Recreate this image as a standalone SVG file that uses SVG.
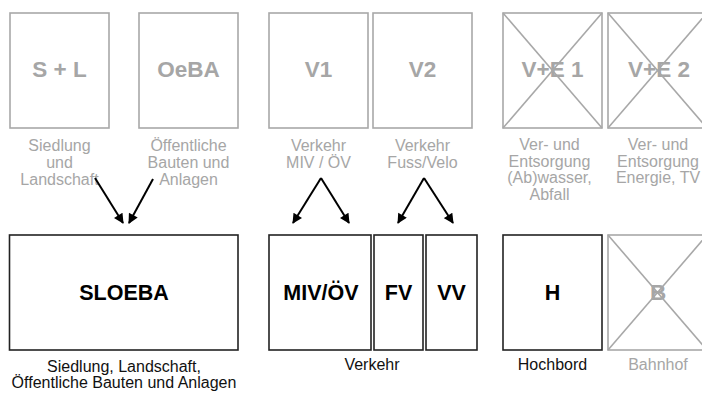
<svg xmlns="http://www.w3.org/2000/svg" width="702" height="394" viewBox="0 0 702 394">
<defs>
<style>
.gbox{fill:#fff;stroke:#a8a8a8;stroke-width:1.6}
.bbox{fill:#fff;stroke:#222;stroke-width:1.6}
.cross{stroke:#a8a8a8;stroke-width:1.6}
.gt{font-family:"Liberation Sans",Arial,sans-serif;font-size:22.5px;font-weight:bold;fill:#a6a6a6;text-anchor:middle}
.bt{font-family:"Liberation Sans",Arial,sans-serif;font-size:21.5px;font-weight:bold;fill:#000;text-anchor:middle}
.gs{font-family:"Liberation Sans",Arial,sans-serif;font-size:16px;fill:#a6a6a6;text-anchor:middle}
.bs{font-family:"Liberation Sans",Arial,sans-serif;font-size:16px;fill:#111;text-anchor:middle}
.arr{stroke:#000;stroke-width:2;fill:none;marker-end:url(#ah)}
</style>
<marker id="ah" viewBox="0 0 10 10" refX="9" refY="5" markerWidth="5.5" markerHeight="5" orient="auto" markerUnits="strokeWidth">
<path d="M0,0 L10,5 L0,10 z" fill="#000"/>
</marker>
</defs>
<rect width="702" height="394" fill="#fff"/>

<g id="SL">
<rect class="gbox" x="10" y="13" width="99" height="115"/>
<text class="gt" x="59.5" y="77">S + L</text>
<text class="gs" x="59.5" y="151">Siedlung</text>
<text class="gs" x="59.5" y="168">und</text>
<text class="gs" x="59.5" y="185">Landschaft</text>
</g>
<g id="OeBA">
<rect class="gbox" x="139" y="13" width="99" height="115"/>
<text class="gt" x="188.5" y="77">OeBA</text>
<text class="gs" x="188.5" y="151">Öffentliche</text>
<text class="gs" x="188.5" y="168">Bauten und</text>
<text class="gs" x="188.5" y="185">Anlagen</text>
</g>
<g id="V1">
<rect class="gbox" x="269" y="13" width="99" height="115"/>
<text class="gt" x="318.5" y="77">V1</text>
<text class="gs" x="318.5" y="151">Verkehr</text>
<text class="gs" x="318.5" y="168">MIV / ÖV</text>
</g>
<g id="V2">
<rect class="gbox" x="373" y="13" width="99" height="115"/>
<text class="gt" x="422.5" y="77">V2</text>
<text class="gs" x="422.5" y="151">Verkehr</text>
<text class="gs" x="422.5" y="168">Fuss/Velo</text>
</g>
<g id="VE1">
<rect class="gbox" x="503" y="13" width="99" height="115"/>
<text class="gt" x="552.5" y="77">V+E 1</text>
<line class="cross" x1="503" y1="13" x2="602" y2="128"/>
<line class="cross" x1="602" y1="13" x2="503" y2="128"/>
<text class="gs" x="549.5" y="150">Ver- und</text>
<text class="gs" x="549.5" y="166.5">Entsorgung</text>
<text class="gs" x="549.5" y="183">(Ab)wasser,</text>
<text class="gs" x="549.5" y="199.5">Abfall</text>
</g>
<g id="VE2">
<rect class="gbox" x="608" y="13" width="99" height="115"/>
<text class="gt" x="659" y="77">V+E 2</text>
<line class="cross" x1="608" y1="13" x2="707" y2="128"/>
<line class="cross" x1="707" y1="13" x2="608" y2="128"/>
<text class="gs" x="658" y="150">Ver- und</text>
<text class="gs" x="658" y="166.5">Entsorgung</text>
<text class="gs" x="658" y="183">Energie, TV</text>
</g>

<g id="SLOEBA">
<rect class="bbox" x="9.5" y="235" width="228.5" height="115"/>
<text class="bt" x="124" y="300">SLOEBA</text>
<text class="bs" x="124" y="372">Siedlung, Landschaft,</text>
<text class="bs" x="124" y="388">Öffentliche Bauten und Anlagen</text>
</g>
<g id="MIVOEV">
<rect class="bbox" x="269" y="235" width="102" height="115"/>
<text class="bt" x="321" y="300">MIV/ÖV</text>
</g>
<g id="FV">
<rect class="bbox" x="374" y="235" width="49" height="115"/>
<text class="bt" x="398.5" y="300">FV</text>
</g>
<g id="VV">
<rect class="bbox" x="426" y="235" width="51" height="115"/>
<text class="bt" x="451.5" y="300">VV</text>
</g>
<text id="Verkehr" class="bs" x="372" y="370">Verkehr</text>
<g id="H">
<rect class="bbox" x="503" y="235" width="99" height="115"/>
<text class="bt" x="552.5" y="300">H</text>
<text class="bs" x="552.5" y="370">Hochbord</text>
</g>
<g id="B">
<rect class="gbox" x="608" y="235" width="99" height="115"/>
<text class="gt" x="658" y="300">B</text>
<line class="cross" x1="608" y1="235" x2="707" y2="350"/>
<line class="cross" x1="707" y1="235" x2="608" y2="350"/>
<text class="gs" x="658" y="370">Bahnhof</text>
</g>

<g id="connectors">
<line class="arr" x1="95" y1="178" x2="123" y2="223"/>
<line class="arr" x1="153" y1="179" x2="129" y2="223"/>
<line class="arr" x1="321" y1="178" x2="293" y2="223"/>
<line class="arr" x1="321" y1="178" x2="349" y2="223"/>
<line class="arr" x1="424" y1="178" x2="398" y2="223"/>
<line class="arr" x1="424" y1="178" x2="453" y2="223"/>
</g>
</svg>
